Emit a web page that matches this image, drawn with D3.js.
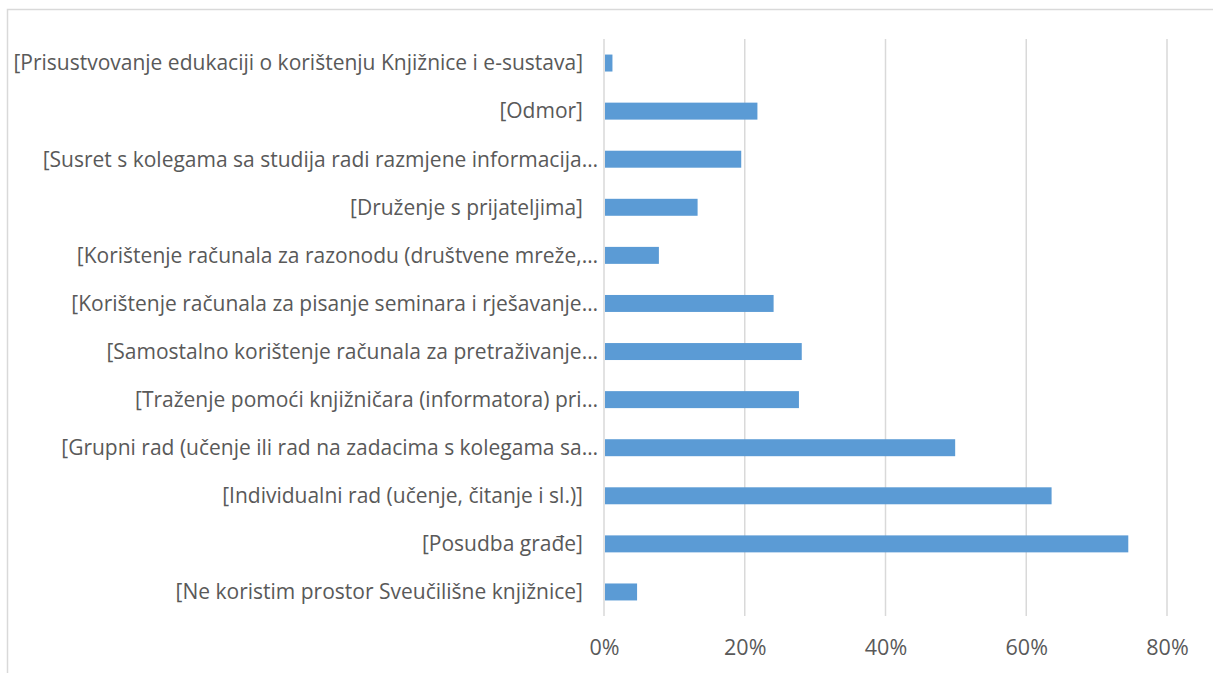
<!DOCTYPE html>
<html>
<head>
<meta charset="utf-8">
<script src="https://cdn.jsdelivr.net/npm/d3@7"></script>
<style>
  body { margin: 0; background: #fff; }
  svg { display: block; }
  text { font-family: "Open Sans", sans-serif; fill: #595959; }
</style>
</head>
<body>
<svg id="chart" width="1213" height="673"></svg>
<script>
// Categories from top to bottom, as shown in the chart
const categories = [
    "[Prisustvovanje edukaciji o korištenju Knjižnice i e-sustava]",
    "[Odmor]",
    "[Susret s kolegama sa studija radi razmjene informacija…",
    "[Druženje s prijateljima]",
    "[Korištenje računala za razonodu (društvene mreže,…",
    "[Korištenje računala za pisanje seminara i rješavanje…",
    "[Samostalno korištenje računala za pretraživanje…",
    "[Traženje pomoći knjižničara (informatora) pri…",
    "[Grupni rad (učenje ili rad na zadacima s kolegama sa…",
    "[Individualni rad (učenje, čitanje i sl.)]",
    "[Posudba građe]",
    "[Ne koristim prostor Sveučilišne knjižnice]"
];

// Share of respondents
const values = [0.012, 0.218, 0.195, 0.133, 0.078, 0.241, 0.281, 0.277, 0.499, 0.636, 0.745, 0.047];

const tickValues = [0, 0.2, 0.4, 0.6, 0.8];

const svg = d3.select("#chart");

// chart border (only top and left edges fall inside the picture)
svg.append("rect")
    .attr("x", 7.5)
    .attr("y", 9.5)
    .attr("width", 1300)
    .attr("height", 700)
    .attr("fill", "none")
    .attr("stroke", "#d9d9d9")
    .attr("stroke-width", 1.5);

const plotTop = 39;
const plotBottom = 616;

const x = d3.scaleLinear().domain([0, 0.8]).range([604, 1167]);
const y = d3.scaleBand()
    .domain(categories)
    .range([plotTop, plotBottom])
    .paddingInner(0.647)
    .paddingOuter(0.3235);

// gridlines
svg.append("g")
    .selectAll("line")
    .data(tickValues)
    .enter()
    .append("line")
    .attr("x1", (d) => x(d))
    .attr("x2", (d) => x(d))
    .attr("y1", plotTop)
    .attr("y2", plotBottom)
    .attr("stroke", "#d9d9d9")
    .attr("stroke-width", 1.5);

// bars
svg.append("g")
    .selectAll("rect")
    .data(values)
    .enter()
    .append("rect")
    .attr("x", x(0) + 1)
    .attr("y", (d, i) => y(categories[i]))
    .attr("width", (d) => x(d) - x(0) - 1)
    .attr("height", y.bandwidth())
    .attr("fill", "#5b9bd5");

// category labels
svg.append("g")
    .selectAll("text")
    .data(categories)
    .enter()
    .append("text")
    .attr("x", (d) => d.endsWith("…") ? 598 : 583)
    .attr("y", (d) => y(d) + y.bandwidth() / 2)
    .attr("dy", "0.35em")
    .attr("text-anchor", "end")
    .attr("font-size", 21)
    .text((d) => d);

// x axis tick labels
const xAxis = d3.axisBottom(x)
    .tickValues(tickValues)
    .tickFormat(d3.format(".0%"))
    .tickSize(0)
    .tickPadding(0);

const axisG = svg.append("g")
    .call(xAxis);
axisG.select(".domain").remove();
axisG.selectAll("text")
    .attr("y", 647)
    .attr("dy", "0.35em")
    .attr("font-size", 21.5)
    .attr("font-family", "Open Sans, sans-serif")
    .attr("fill", "#595959");
</script>
</body>
</html>
